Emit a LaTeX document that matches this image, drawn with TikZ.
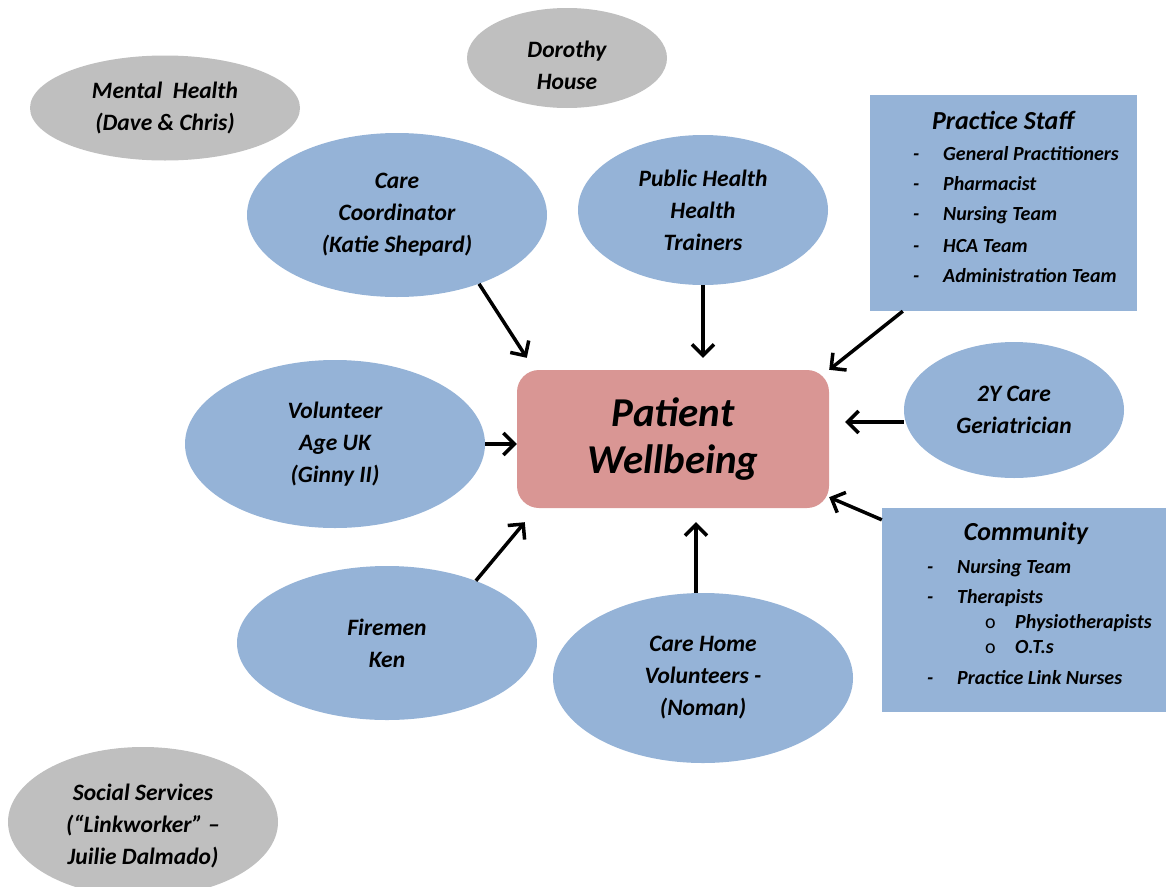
\documentclass[tikz,border=0pt]{standalone}
\usepackage{fontspec}
\setmainfont{Carlito}
\usetikzlibrary{shapes.geometric,arrows.meta}

\definecolor{nodeBlue}{HTML}{95B3D7}
\definecolor{nodeGrey}{HTML}{BFBFBF}
\definecolor{nodePink}{HTML}{D99694}

\begin{document}
\begin{tikzpicture}[x=1pt,y=-1pt,%%
  textStyle/.style={inner sep=0pt,align=center,%%
    font=\fontsize{23.5}{32}\selectfont\bfseries\itshape},%%
  blueStyle/.style={ellipse,fill=nodeBlue,textStyle},%%
  greyStyle/.style={blueStyle,fill=nodeGrey},%%
  boxStyle/.style={rectangle,fill=nodeBlue,inner sep=0pt},%%
  titleStyle/.style={inner sep=0pt,font=\fontsize{26}{30}\selectfont\bfseries\itshape},%%
  itemStyle/.style={anchor=west,inner sep=0pt,font=\fontsize{20}{24}\selectfont\bfseries\itshape},%%
  arrowStyle/.style={-{Straight Barb[length=11pt,width=22pt]},line width=3.5pt}%%
]
%%
\useasboundingbox (0,0) rectangle (1166,886);
%%
%% Grey ellipses (not linked).
\node[greyStyle,minimum width=270pt,minimum height=105pt] (mentalHealth) at (165,108)
  {Mental~ Health\\(Dave \& Chris)};
\node[greyStyle,minimum width=200pt,minimum height=100pt] (dorothyHouse) at (567,58) {};
\node[textStyle] (dorothyText) at (567,65) {Dorothy\\House};
\node[greyStyle,minimum width=270pt,minimum height=150pt] (socialServices) at (143,822) {};
\node[textStyle] (socialText) at (143,826)
  {Social Services\\(“Linkworker” –\\Juilie Dalmado)};
%%
%% Centre box.
\node[rectangle,rounded corners=22pt,fill=nodePink,minimum width=312pt,minimum height=138pt,
  align=center,font=\fontsize{41}{47}\selectfont\itshape\bfseries] (patient) at (673,439)
  {Patient\\Wellbeing};
%%
%% Blue ellipses.
\node[blueStyle,minimum width=300pt,minimum height=164pt] (careCoord) at (397,215)
  {Care\\Coordinator\\(Katie Shepard)};
\node[blueStyle,minimum width=250pt,minimum height=150pt] (publicHealth) at (703,210)
  {Public Health\\Health\\Trainers};
\node[blueStyle,minimum width=300pt,minimum height=168pt] (volunteer) at (335,444)
  {Volunteer\\Age UK\\(Ginny II)};
\node[blueStyle,minimum width=220pt,minimum height=136pt] (twoYCare) at (1014,410)
  {2Y Care\\Geriatrician};
\node[blueStyle,minimum width=300pt,minimum height=154pt] (firemen) at (387,643)
  {Firemen\\Ken};
\node[blueStyle,minimum width=300pt,minimum height=170pt] (careHome) at (703,678)
  {Care Home\\Volunteers -\\(Noman)};
%%
%% Practice staff box.
\node[boxStyle,minimum width=267pt,minimum height=216pt] (pracStaff) at (1003.5,203) {};
\node[titleStyle] (pracTitle) at (1003,120) {Practice Staff};
\node[itemStyle] (pracGP) at (913,154) {\makebox[30pt][l]{-}General Practitioners};
\node[itemStyle] (pracPharm) at (913,184) {\makebox[30pt][l]{-}Pharmacist};
\node[itemStyle] (pracNurse) at (913,215) {\makebox[30pt][l]{-}Nursing Team};
\node[itemStyle] (pracHCA) at (913,246) {\makebox[30pt][l]{-}HCA Team};
\node[itemStyle] (pracAdmin) at (913,276) {\makebox[30pt][l]{-}Administration Team};
%%
%% Community box.
\node[boxStyle,minimum width=284pt,minimum height=204pt] (community) at (1024,610) {};
\node[titleStyle] (commTitle) at (1026,533) {Community};
\node[itemStyle] (commNurse) at (927,568) {\makebox[30pt][l]{-}Nursing Team};
\node[itemStyle] (commTher) at (927,598) {\makebox[30pt][l]{-}Therapists};
\node[itemStyle] (commPhysio) at (985,623) {\makebox[30pt][l]{\upshape\mdseries o}Physiotherapists};
\node[itemStyle] (commOT) at (985,647) {\makebox[30pt][l]{\upshape\mdseries o}O.T.s};
\node[itemStyle] (commLink) at (927,678) {\makebox[30pt][l]{-}Practice Link Nurses};
%%
%% Arrows into the centre box.
\draw[arrowStyle] (careCoord.-40) -- ([shift={(10,-12)}]patient.north west);
\draw[arrowStyle] (publicHealth.south) -- ([shift={(30,-12)}]patient.north);
\draw[arrowStyle] ([xshift=33pt]pracStaff.south west) -- (patient.north east);
\draw[arrowStyle] ([yshift=-12pt]twoYCare.west) -- ([shift={(16,-17)}]patient.east);
\draw[arrowStyle] ([yshift=-12pt]community.north west) -- ([yshift=11pt]patient.south east);
\draw[arrowStyle] (volunteer.east) -- (volunteer.east -| patient.west);
\draw[arrowStyle] (firemen.35) -- ([shift={(8,14)}]patient.south west);
\draw[arrowStyle] ([xshift=-7pt]careHome.north) -- ([shift={(23,14)}]patient.south);
\end{tikzpicture}
\end{document}
